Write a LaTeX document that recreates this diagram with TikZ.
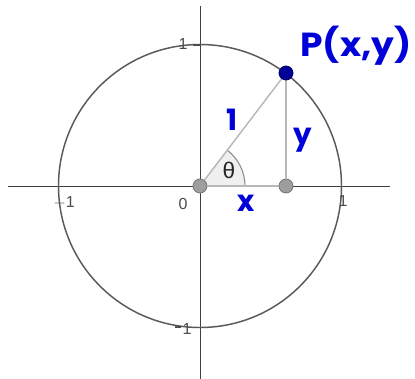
\documentclass[tikz,border=0pt]{standalone}
\usepackage{fontspec}
\setmainfont{Liberation Sans}
\newfontfamily\handfont{Poppins}
\begin{document}
\begin{tikzpicture}[x=0.75pt,y=-0.75pt,
  axisline/.style={draw=black!75,line width=0.7pt},
  circleline/.style={draw=black!65,line width=1.1pt},
  legline/.style={draw=black!28,line width=1.1pt},
  graydot/.style={circle,fill=black!38,draw=black!55,line width=0.6pt,minimum size=14*0.75pt,inner sep=0pt},
  bluedot/.style={circle,fill=blue!60!black,draw=blue!40!black,line width=0.6pt,minimum size=14*0.75pt,inner sep=0pt},
  ticklbl/.style={text=black!70,font=\fontsize{12}{12}\selectfont,inner sep=0pt},
  handlbl/.style={text=blue!85!black,font=\handfont\bfseries\fontsize{22}{22}\selectfont,inner sep=0pt}]
\useasboundingbox (0,0) rectangle (415,379);
% axes
\coordinate (xl) at (8,186);
\coordinate (xr) at (390,186);
\coordinate (yt) at (200,6);
\coordinate (yb) at (200,379);
\draw[axisline] (xl) -- (xr);
\draw[axisline] (yt) -- (yb);
% unit circle
\draw[circleline] (200,186) circle (141.5);
% angle sector
\fill[black!6] (200,186) -- (245,186) arc[start angle=0,end angle=-52.7,radius=45] -- cycle;
\draw[black!45,line width=0.8pt] (245,186) arc[start angle=0,end angle=-52.7,radius=45];
% nodes
\node[graydot] (O) at (200,186) {};
\node[graydot] (F) at (286,186) {};
% triangle
\coordinate (Pc) at (286,73);
\draw[legline] (O) -- (Pc);
\draw[legline] (Pc) -- (F);
\draw[legline] (O) -- (F);
\node[bluedot] (P) at (Pc) {};
% ticks
\draw[black!70,line width=0.8pt] (193,45) -- (200,45);
\draw[black!70,line width=0.8pt] (175,327) -- (181,327);
% tick labels
\node[ticklbl] (t1) at (183,44) {1};
\node[ticklbl] (tm1) at (187,329) {1};
\node[ticklbl] (lx) at (64,203) {$-$1};
\node[ticklbl] (z) at (183,204) {0};
\node[ticklbl] (rx) at (343,201) {1};
% labels
\node[handlbl,font=\handfont\bfseries\fontsize{25}{25}\selectfont] (Pl) at (356,46) {\scalebox{1.08}[1]{P(x,y)}};
\node[handlbl] (one) at (232,120) {1};
\node[handlbl] (yl) at (303,140) {y};
\node[handlbl] (xlb) at (246,203) {x};
\node[font=\fontsize{17}{17}\selectfont,text=black!85,inner sep=0pt] (th) at (229,170) {θ};
\end{tikzpicture}
\end{document}
